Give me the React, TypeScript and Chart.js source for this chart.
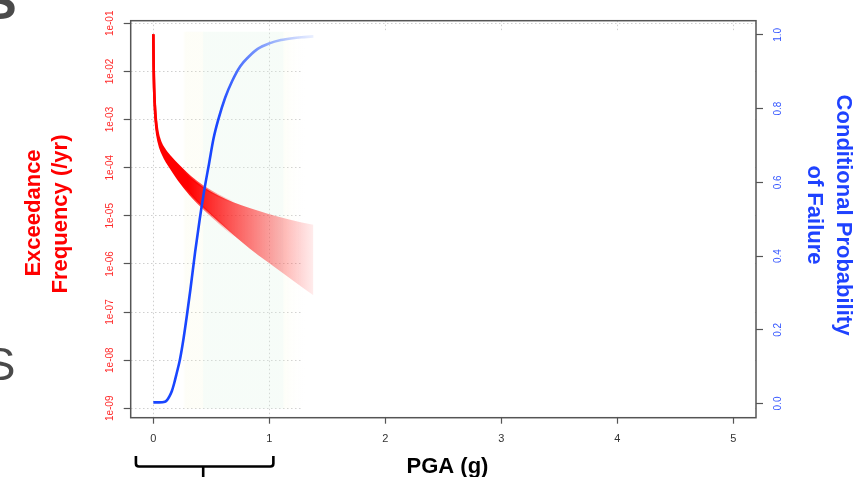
import React, { useEffect, useRef } from 'react';
import { Chart, registerables } from 'chart.js';

Chart.register(...registerables);

// ---------- data ----------
const X_TICKS = [0, 1, 2, 3, 4, 5];
const X_TICK_LABELS = ['0', '1', '2', '3', '4', '5'];
const Y_TICKS = [1e-9, 1e-8, 1e-7, 1e-6, 1e-5, 1e-4, 1e-3, 1e-2, 1e-1];
const Y_TICK_LABELS = ['1e-09', '1e-08', '1e-07', '1e-06', '1e-05', '1e-04', '1e-03', '1e-02', '1e-01'];
const P_TICKS = [0, 0.2, 0.4, 0.6, 0.8, 1.0];
const P_TICK_LABELS = ['0.0', '0.2', '0.4', '0.6', '0.8', '1.0'];

const X_MIN = -0.195;
const X_MAX = 5.196;
const Y_MIN = 6.38e-10;
const Y_MAX = 0.1132;
const P_MIN = -0.0385;
const P_MAX = 1.0385;

// hazard curve band (exceedance frequency, /yr)
const HAZARD_PGA = [0, 0.003, 0.007, 0.012, 0.02, 0.035, 0.06, 0.1, 0.15, 0.22, 0.32, 0.43, 0.56, 0.69, 0.83, 0.98, 1.18, 1.38];
const HAZARD_UPPER = [5.89e-2, 1.26e-2, 4.47e-3, 2.24e-3, 1.12e-3, 5.6e-4, 3.39e-4, 2.29e-4, 1.62e-4, 1.07e-4, 6.3e-5, 3.98e-5, 2.63e-5, 1.91e-5, 1.45e-5, 1.12e-5, 8.3e-6, 6.5e-6];
const HAZARD_LOWER = [5.89e-2, 1.26e-2, 4.47e-3, 2.09e-3, 1.0e-3, 4.8e-4, 2.63e-4, 1.58e-4, 1.0e-4, 5.6e-5, 2.8e-5, 1.48e-5, 7.6e-6, 4.0e-6, 2.1e-6, 1.12e-6, 5.0e-7, 2.24e-7];

// fragility curve (conditional probability of failure)
const FRAG_PGA = [0, 0.05, 0.1, 0.12, 0.14, 0.16, 0.18, 0.2, 0.23, 0.26, 0.29, 0.32, 0.36, 0.4, 0.44, 0.48, 0.52, 0.56, 0.62, 0.68, 0.75, 0.82, 0.9, 1.0, 1.1, 1.2, 1.3, 1.38];
const FRAG_PROB = [0.003, 0.003, 0.005, 0.01, 0.02, 0.034, 0.055, 0.08, 0.12, 0.175, 0.24, 0.31, 0.41, 0.5, 0.58, 0.65, 0.72, 0.77, 0.83, 0.875, 0.915, 0.94, 0.962, 0.977, 0.986, 0.991, 0.994, 0.996];

const FONT = "'Liberation Sans', Arial, Helvetica, sans-serif";

function xGrad(chart: any, v0: number, v1: number, stops: [number, string][], fallback: string) {
  const { ctx, chartArea, scales } = chart;
  if (!chartArea || !scales.x) return fallback;
  const g = ctx.createLinearGradient(scales.x.getPixelForValue(v0), 0, scales.x.getPixelForValue(v1), 0);
  stops.forEach(([o, c]) => g.addColorStop(o, c));
  return g;
}

const decor = {
  id: 'decor',
  beforeDatasetsDraw(chart: any) {
    const { ctx, chartArea: a, scales } = chart;
    const x = scales.x;
    ctx.save();
    // white overlay hiding the grid on the right part
    const wl = x.getPixelForValue(1.29);
    ctx.fillStyle = '#ffffff';
    ctx.fillRect(wl, a.top + 10, a.right - 1 - wl, a.bottom - 1 - (a.top + 10));
    // faint shading
    const s0 = x.getPixelForValue(0.25);
    const s1 = x.getPixelForValue(1.33);
    const g = ctx.createLinearGradient(s0, 0, s1, 0);
    g.addColorStop(0, 'rgba(250,250,200,0)');
    g.addColorStop(0.03, 'rgba(245,245,200,0.14)');
    g.addColorStop(0.16, 'rgba(245,245,200,0.14)');
    g.addColorStop(0.17, 'rgba(225,245,230,0.28)');
    g.addColorStop(0.8, 'rgba(225,245,230,0.28)');
    g.addColorStop(0.82, 'rgba(245,248,215,0.16)');
    g.addColorStop(1, 'rgba(255,255,255,0)');
    ctx.fillStyle = g;
    ctx.fillRect(s0, a.top + 11, s1 - s0, a.bottom - 9 - (a.top + 11));
    ctx.restore();
  },
  afterDraw(chart: any) {
    const { ctx, chartArea: a, scales } = chart;
    const x = scales.x;
    ctx.save();
    // plot box
    ctx.strokeStyle = '#555555';
    ctx.lineWidth = 1.5;
    ctx.strokeRect(a.left, a.top, a.right - a.left, a.bottom - a.top);

    // left title
    ctx.fillStyle = '#ff0000';
    ctx.font = `bold 22px ${FONT}`;
    ctx.textAlign = 'center';
    ctx.textBaseline = 'middle';
    ctx.save();
    ctx.translate(34.1, 213);
    ctx.rotate(-Math.PI / 2);
    ctx.fillText('Exceedance', 0, 0);
    ctx.restore();
    ctx.save();
    ctx.translate(61.4, 214);
    ctx.rotate(-Math.PI / 2);
    ctx.fillText('Frequency (/yr)', 0, 0);
    ctx.restore();

    // right title
    ctx.fillStyle = '#1f42ff';
    ctx.save();
    ctx.translate(842.6, 215);
    ctx.rotate(Math.PI / 2);
    ctx.fillText('Conditional Probability', 0, 0);
    ctx.restore();
    ctx.save();
    ctx.translate(814.3, 215);
    ctx.rotate(Math.PI / 2);
    ctx.fillText('of Failure', 0, 0);
    ctx.restore();

    // x title
    ctx.fillStyle = '#000000';
    ctx.textBaseline = 'alphabetic';
    ctx.fillText('PGA (g)', 447.5, 472.5);

    // bracket under 0..1
    const bl = x.getPixelForValue(-0.15);
    const br = x.getPixelForValue(1.035);
    const bm = x.getPixelForValue(0.43);
    const top = 456, hy = 466.5, r = 3;
    ctx.strokeStyle = '#000000';
    ctx.lineWidth = 2.6;
    ctx.lineJoin = 'round';
    ctx.beginPath();
    ctx.moveTo(bl, top);
    ctx.lineTo(bl, hy - r);
    ctx.quadraticCurveTo(bl, hy, bl + r, hy);
    ctx.lineTo(br - r, hy);
    ctx.quadraticCurveTo(br, hy, br, hy - r);
    ctx.lineTo(br, top);
    ctx.stroke();
    ctx.beginPath();
    ctx.moveTo(bm, hy);
    ctx.lineTo(bm, 480);
    ctx.stroke();

    // cut-off slide letters at the left edge
    ctx.fillStyle = '#4a4a4a';
    ctx.textAlign = 'center';
    ctx.font = `bold 50px ${FONT}`;
    ctx.fillText('S', 0, 19);
    ctx.font = `46px ${FONT}`;
    ctx.fillText('S', 0, 380);
    ctx.restore();
  },
};

export default function App() {
  const ref = useRef<HTMLCanvasElement>(null);

  useEffect(() => {
    const canvas = ref.current;
    if (!canvas) return;

    const redLine = (c: any) =>
      xGrad(c.chart, 0.25, 0.7, [[0, 'rgba(255,0,0,1)'], [1, 'rgba(255,0,0,0)']], '#ff0000');
    const redFill = (c: any) =>
      xGrad(c.chart, 0.3, 1.4, [[0, 'rgba(255,0,0,1)'], [0.5, 'rgba(255,20,20,0.55)'], [1, 'rgba(255,40,40,0.07)']], 'rgba(255,0,0,0.5)');
    const blueLine = (c: any) =>
      xGrad(c.chart, 0.55, 1.4, [[0, 'rgba(25,70,255,1)'], [0.35, 'rgba(60,100,255,0.75)'], [1, 'rgba(90,130,255,0.1)']], '#1946ff');

    const chart = new Chart(canvas, {
      type: 'line',
      data: {
        datasets: [
          {
            label: 'Conditional Probability of Failure',
            data: FRAG_PGA.map((p, i) => ({ x: p, y: FRAG_PROB[i] })),
            yAxisID: 'y1',
            borderColor: blueLine as any,
            borderWidth: 2.6,
            pointRadius: 0,
            cubicInterpolationMode: 'monotone',
            fill: false,
          },
          {
            label: 'Hazard upper',
            data: HAZARD_PGA.map((p, i) => ({ x: p, y: HAZARD_UPPER[i] })),
            yAxisID: 'y',
            borderColor: redLine as any,
            borderWidth: 2.6,
            pointRadius: 0,
            cubicInterpolationMode: 'monotone',
            fill: false,
          },
          {
            label: 'Hazard lower',
            data: HAZARD_PGA.map((p, i) => ({ x: p, y: HAZARD_LOWER[i] })),
            yAxisID: 'y',
            borderColor: redLine as any,
            backgroundColor: redFill as any,
            borderWidth: 2.6,
            pointRadius: 0,
            cubicInterpolationMode: 'monotone',
            fill: '-1',
          },
        ],
      },
      options: {
        animation: false,
        responsive: false,
        devicePixelRatio: 1,
        layout: { padding: { top: 20.7, left: 0, right: 0, bottom: 0 } },
        plugins: { legend: { display: false }, tooltip: { enabled: false } },
        scales: {
          x: {
            type: 'linear',
            min: X_MIN,
            max: X_MAX,
            afterFit: (s: any) => { s.height = 59.3; },
            afterBuildTicks: (s: any) => { s.ticks = X_TICKS.map((v) => ({ value: v })); },
            ticks: {
              callback: (_v: any, i: number) => X_TICK_LABELS[i],
              color: '#333333',
              font: { family: FONT, size: 11 },
              padding: 9,
              maxRotation: 0,
              autoSkip: false,
            },
            grid: { color: '#cfcfcf', lineWidth: 1, tickLength: 6, tickColor: '#555555', tickWidth: 1.2 },
            border: { display: false, dash: [1.5, 2.5] },
          },
          y: {
            type: 'logarithmic',
            position: 'left',
            min: Y_MIN,
            max: Y_MAX,
            afterFit: (s: any) => { s.width = 130.7; },
            afterBuildTicks: (s: any) => { s.ticks = Y_TICKS.map((v) => ({ value: v })); },
            ticks: {
              callback: (_v: any, i: number) => Y_TICK_LABELS[i],
              color: '#ff2a2a',
              font: { family: FONT, size: 10 },
              minRotation: 90,
              maxRotation: 90,
              crossAlign: 'center',
              padding: 1,
              autoSkip: false,
            },
            grid: { color: '#cfcfcf', lineWidth: 1, tickLength: 7, tickColor: '#555555', tickWidth: 1.2 },
            border: { display: false, dash: [1.5, 2.5] },
          },
          y1: {
            type: 'linear',
            position: 'right',
            min: P_MIN,
            max: P_MAX,
            afterFit: (s: any) => { s.width = 97; },
            afterBuildTicks: (s: any) => { s.ticks = P_TICKS.map((v) => ({ value: v })); },
            ticks: {
              callback: (_v: any, i: number) => P_TICK_LABELS[i],
              color: '#3355ff',
              font: { family: FONT, size: 10 },
              minRotation: 90,
              maxRotation: 90,
              crossAlign: 'center',
              padding: 8,
              autoSkip: false,
            },
            grid: { drawOnChartArea: false, tickLength: 7, tickColor: '#555555', tickWidth: 1.2 },
            border: { display: false },
          },
        },
      } as any,
      plugins: [decor],
    });

    return () => chart.destroy();
  }, []);

  return (
    <div style={{ position: 'fixed', left: 0, top: 0, width: 853, height: 477, background: '#ffffff' }}>
      <canvas ref={ref} width={853} height={477} style={{ display: 'block', width: 853, height: 477 }} />
    </div>
  );
}
